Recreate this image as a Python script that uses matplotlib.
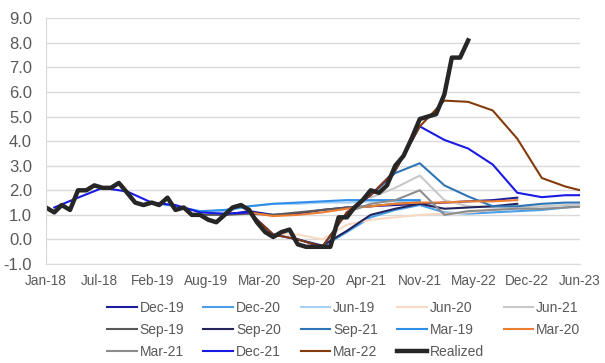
import numpy as np
import pandas as pd
import matplotlib
matplotlib.use("Agg")
import matplotlib.pyplot as plt
import matplotlib.dates as mdates

plt.rcParams['font.family'] = ['Liberation Sans', 'DejaVu Sans']

nan = np.nan

# realized inflation, monthly from Jan-18 to May-22
realized_dates = pd.date_range("2018-01-01", periods=53, freq="MS")
realized = [1.3, 1.1, 1.4, 1.2, 2.0, 2.0, 2.2, 2.1, 2.1, 2.3, 1.9, 1.5,
            1.4, 1.5, 1.4, 1.7, 1.2, 1.3, 1.0, 1.0, 0.8, 0.7, 1.0, 1.3,
            1.4, 1.2, 0.7, 0.3, 0.1, 0.3, 0.4, -0.2, -0.3, -0.3, -0.3, -0.3,
            0.9, 0.9, 1.3, 1.6, 2.0, 1.9, 2.2, 3.0, 3.4, 4.1, 4.9, 5.0,
            5.1, 5.9, 7.4, 7.4, 8.1]

# projection vintages, quarterly points (mid-quarter month, Feb-18 .. Aug-23)
quarters = pd.date_range("2018-02-01", periods=23, freq="3MS")


def pad(start, vals):
    out = [nan] * start + list(vals)
    return out + [nan] * (len(quarters) - len(out))


dec19 = pad(7, [1.0, 1.15, 1.0, 1.05, 1.2, 1.3, 1.35, 1.4, 1.45, 1.5, 1.55, 1.6, 1.7])
dec20 = pad(11, [-0.3, 0.3, 0.9, 1.2, 1.4, 1.1, 1.05, 1.1, 1.15, 1.2, 1.3, 1.4])
jun19 = pad(5, [1.35, 1.15, 1.15, 1.35, 1.45, 1.45, 1.5, 1.5, 1.55, 1.55, 1.55])
jun20 = pad(9, [0.2, 0.2, 0.0, 0.6, 0.8, 0.9, 1.0, 1.05, 1.1, 1.2, 1.3])
jun21 = pad(13, [1.7, 2.1, 2.6, 1.6, 1.35, 1.3, 1.3, 1.35, 1.4, 1.4])
sep19 = pad(6, [1.0, 1.0, 1.05, 1.0, 1.1, 1.2, 1.3, 1.35, 1.45, 1.5])
sep20 = pad(10, [0.0, -0.25, 0.35, 1.0, 1.25, 1.45, 1.25, 1.3, 1.35, 1.45])
sep21 = pad(13, [1.8, 2.7, 3.1, 2.2, 1.75, 1.35, 1.35, 1.45, 1.5, 1.5])
mar19 = pad(4, [1.5, 1.35, 1.15, 1.2, 1.35, 1.45, 1.5, 1.55, 1.6, 1.6, 1.6, 1.6])
mar20 = pad(8, [1.1, 0.95, 1.0, 1.1, 1.25, 1.35, 1.45, 1.5, 1.5, 1.55, 1.55, 1.6])
mar21 = pad(12, [1.1, 1.45, 1.6, 2.0, 1.0, 1.15, 1.2, 1.25, 1.25, 1.3, 1.35])
dec21 = pad(0, [1.3, 1.7, 2.1, 1.95, 1.5, 1.4, 1.1, 1.05, 1.1, 0.2, 0.0, -0.3,
                1.1, 1.8, 2.8, 4.6, 4.05, 3.7, 3.05, 1.9, 1.72, 1.8, 1.8])
mar22 = pad(8, [1.1, 0.2, 0.0, -0.3, 1.1, 1.8, 2.8, 4.6, 5.65, 5.6, 5.25, 4.1, 2.5, 2.15, 1.9])

series = [
    ("Dec-19", dec19, "#1c1c9c"),
    ("Dec-20", dec20, "#4a9fe8"),
    ("Jun-19", jun19, "#a8d0f0"),
    ("Jun-20", jun20, "#f8d9c4"),
    ("Jun-21", jun21, "#c8c8c8"),
    ("Sep-19", sep19, "#595959"),
    ("Sep-20", sep20, "#23245e"),
    ("Sep-21", sep21, "#2e75b6"),
    ("Mar-19", mar19, "#2e8fea"),
    ("Mar-20", mar20, "#ed7d31"),
    ("Mar-21", mar21, "#8c8c8c"),
    ("Dec-21", dec21, "#1a1ae6"),
    ("Mar-22", mar22, "#843c0c"),
]

fig = plt.figure(figsize=(6.05, 3.63), dpi=100)
ax = fig.add_axes([0.076, 0.2727, 0.8827, 0.6769])

handles = []
for label, vals, col in series:
    h, = ax.plot(quarters, vals, color=col, lw=1.5, label=label)
    handles.append(h)
h, = ax.plot(realized_dates, realized, color="#262626", lw=3.2, label="Realized")
handles.append(h)

start = pd.Timestamp("2018-01-01")
ticks = [start + pd.Timedelta(days=200 * k) for k in range(11)]
ax.set_xticks(ticks)
ax.xaxis.set_major_formatter(mdates.DateFormatter("%b-%y"))
ax.set_xlim(start, ticks[-1])
ax.set_ylim(-1, 9)
ax.set_yticks(np.arange(-1, 10, 1))
ax.set_yticklabels([f"{v:.1f}" for v in np.arange(-1, 10, 1)])

ax.grid(axis="y", color="#d9d9d9", lw=1)
ax.set_axisbelow(True)
for s in ["top", "right"]:
    ax.spines[s].set_visible(False)
for s in ["left", "bottom"]:
    ax.spines[s].set_color("#d9d9d9")
ax.tick_params(axis="both", length=0, colors="#595959")
ax.tick_params(axis="y", labelsize=12, pad=10)
ax.tick_params(axis="x", labelsize=9.8, pad=7)

# legend in row-wise order, 5 columns
ncol = 5
nrow = 3
ordered = []
for c in range(ncol):
    for r in range(nrow):
        i = r * ncol + c
        if i < len(handles):
            ordered.append(handles[i])
fig.legend(handles=ordered, labels=[h.get_label() for h in ordered],
           ncol=ncol, loc="center", bbox_to_anchor=(0.568, 0.091),
           frameon=False, fontsize=10, handlelength=2.15, handletextpad=0.2,
           columnspacing=1.4, labelspacing=0.55, labelcolor="#595959")

fig.savefig("out.png", dpi=100)
